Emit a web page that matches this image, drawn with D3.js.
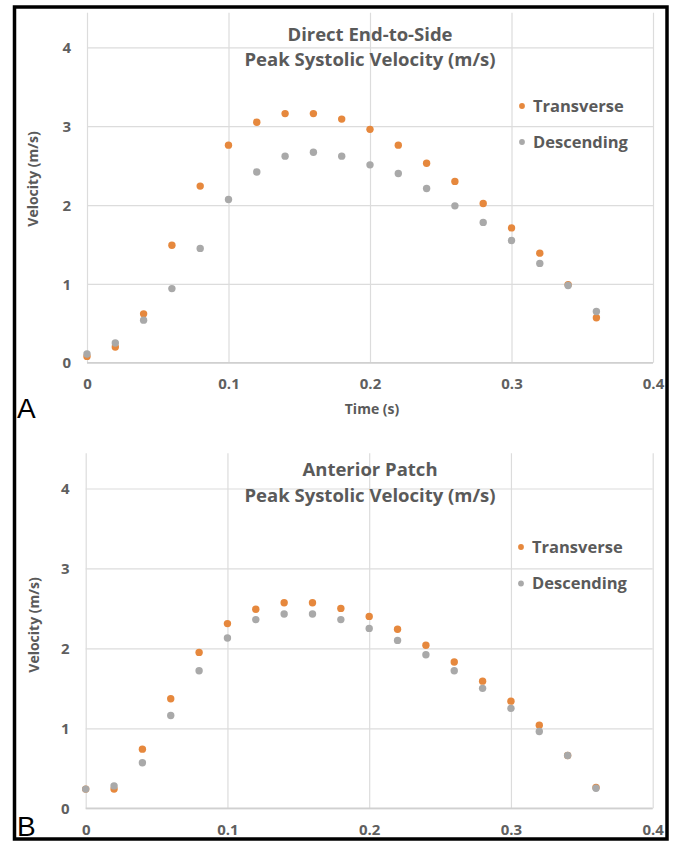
<!DOCTYPE html>
<html>
<head>
<meta charset="utf-8">
<script src="https://cdn.jsdelivr.net/npm/d3@7"></script>
<style>
  html, body { margin: 0; padding: 0; background: #fff; }
  svg { display: block; }
  .tick text { font-family: "Open Sans", Lato, sans-serif; font-weight: 700; fill: #5f5f5f; }
</style>
</head>
<body>
<svg id="fig" width="675" height="841"></svg>
<script>
// Sample times (s)
const times = [0, 0.02, 0.04, 0.06, 0.08, 0.10, 0.12, 0.14, 0.16, 0.18,
               0.20, 0.22, 0.24, 0.26, 0.28, 0.30, 0.32, 0.34, 0.36];

// Panel A: direct end-to-side, peak systolic velocity (m/s)
const directTransverse = [0.08, 0.20, 0.62, 1.49, 2.24, 2.76, 3.05, 3.16, 3.16, 3.09,
                          2.96, 2.76, 2.53, 2.30, 2.02, 1.71, 1.39, 0.99, 0.57];
const directDescending = [0.11, 0.25, 0.54, 0.94, 1.45, 2.07, 2.42, 2.62, 2.67, 2.62,
                          2.51, 2.40, 2.21, 1.99, 1.78, 1.55, 1.26, 0.98, 0.65];

// Panel B: anterior patch, peak systolic velocity (m/s)
const patchTransverse = [0.24, 0.24, 0.74, 1.37, 1.95, 2.31, 2.49, 2.57, 2.57, 2.50,
                         2.40, 2.24, 2.04, 1.83, 1.59, 1.34, 1.04, 0.66, 0.26];
const patchDescending = [0.24, 0.28, 0.57, 1.16, 1.72, 2.13, 2.36, 2.43, 2.43, 2.36,
                         2.25, 2.10, 1.92, 1.72, 1.50, 1.25, 0.96, 0.66, 0.25];

const seriesNames = ["Transverse", "Descending"];
const xTicks = [0, 0.1, 0.2, 0.3, 0.4];
const yTicks = [0, 1, 2, 3, 4];
const titlesA = ["Direct End-to-Side", "Peak Systolic Velocity (m/s)"];
const titlesB = ["Anterior Patch", "Peak Systolic Velocity (m/s)"];

const colors = { Transverse: "#e6883d", Descending: "#a9a9a9" };
const textColor = "#5a5a5a";
const gridColor = "#dcdcdc";
const font = "'Open Sans', Lato, sans-serif";

const svg = d3.select("#fig");
svg.append("rect").attr("width", 675).attr("height", 841).attr("fill", "#fff");

function drawPanel(cfg) {
  const g = svg.append("g");
  const x = d3.scaleLinear().domain([0, 0.4]).range([cfg.left, cfg.right]);
  const y = d3.scaleLinear().domain([0, 4.44]).range([cfg.bottom, cfg.top]);

  // horizontal gridlines + y tick labels
  const ya = g.append("g")
    .attr("transform", `translate(${cfg.left},0)`)
    .call(d3.axisLeft(y).tickValues(yTicks).tickSize(-(cfg.right - cfg.left)).tickPadding(16).tickFormat(d3.format("d")));
  ya.select(".domain").remove();
  ya.selectAll(".tick line").attr("stroke", gridColor).attr("stroke-width", 1.2);
  ya.selectAll(".tick text").attr("font-size", 15).attr("dy", "0.35em");

  // vertical gridlines + x tick labels
  const xa = g.append("g")
    .attr("transform", `translate(0,${cfg.bottom})`)
    .call(d3.axisBottom(x).tickValues(xTicks).tickSize(-(cfg.bottom - cfg.top)).tickPadding(16).tickFormat(d => d === 0 ? "0" : d3.format(".1f")(d)));
  xa.select(".domain").remove();
  xa.selectAll(".tick line").attr("stroke", gridColor).attr("stroke-width", 1.2);
  xa.selectAll(".tick text").attr("font-size", 15);

  // x axis baseline
  g.append("line")
    .attr("x1", cfg.left).attr("x2", cfg.right)
    .attr("y1", y(0)).attr("y2", y(0))
    .attr("stroke", "#d0d0d0").attr("stroke-width", 1.4);

  // two-line title
  cfg.titles.forEach((t, i) => {
    g.append("text")
      .attr("x", cfg.titleX).attr("y", cfg.titleY + i * 25.5)
      .attr("text-anchor", "middle")
      .attr("font-family", font).attr("font-weight", 700).attr("font-size", 18.5)
      .attr("fill", textColor).text(t);
  });

  // axis titles
  g.append("text")
    .attr("transform", `translate(${cfg.yLabelX},${cfg.yLabelY}) rotate(-90)`)
    .attr("text-anchor", "middle").attr("dy", "0.35em")
    .attr("font-family", font).attr("font-weight", 700).attr("font-size", 14)
    .attr("fill", textColor).text("Velocity (m/s)");
  if (cfg.xLabel) {
    g.append("text")
      .attr("x", (cfg.left + cfg.right) / 2 + 2).attr("y", cfg.xLabelY)
      .attr("text-anchor", "middle").attr("dy", "0.35em")
      .attr("font-family", font).attr("font-weight", 700).attr("font-size", 14)
      .attr("fill", textColor).text(cfg.xLabel);
  }

  // markers
  const series = [
    { name: seriesNames[0], values: cfg.transverse },
    { name: seriesNames[1], values: cfg.descending }
  ];
  series.forEach(s => {
    g.append("g").selectAll("circle")
      .data(times.map((t, i) => ({ t, v: s.values[i] })))
      .join("circle")
      .attr("cx", d => x(d.t)).attr("cy", d => y(d.v))
      .attr("r", 3.7).attr("fill", colors[s.name]);
  });

  // legend
  series.forEach((s, i) => {
    const ly = cfg.legendY + i * cfg.legendGap;
    g.append("circle").attr("cx", cfg.legendX).attr("cy", ly).attr("r", 2.9).attr("fill", colors[s.name]);
    g.append("text")
      .attr("x", cfg.legendX + 11).attr("y", ly).attr("dy", "0.35em")
      .attr("font-family", font).attr("font-weight", 700).attr("font-size", 16.5)
      .attr("fill", textColor).text(s.name);
  });

  // panel letter
  svg.append("text")
    .attr("x", 17).attr("y", cfg.letterY)
    .attr("font-family", "'Liberation Sans', Arial, sans-serif").attr("font-size", 28)
    .attr("fill", "#000").text(cfg.letter);
}

drawPanel({
  left: 87, right: 653, top: 12.7, bottom: 362.7,
  titles: titlesA, titleX: 370, titleY: 40.5,
  yLabelX: 33, yLabelY: 179, xLabel: "Time (s)", xLabelY: 409,
  transverse: directTransverse, descending: directDescending,
  legendX: 522, legendY: 106, legendGap: 36,
  letter: "A", letterY: 418
});

drawPanel({
  left: 85.7, right: 652.7, top: 453.3, bottom: 808.3,
  titles: titlesB, titleX: 370, titleY: 476,
  yLabelX: 34, yLabelY: 625, xLabel: null, xLabelY: 0,
  transverse: patchTransverse, descending: patchDescending,
  legendX: 521, legendY: 547, legendGap: 36.5,
  letter: "B", letterY: 836
});

// figure frame
svg.append("rect")
  .attr("x", 14.5).attr("y", 7).attr("width", 652.5).attr("height", 832)
  .attr("fill", "none").attr("stroke", "#000").attr("stroke-width", 3.5);
</script>
</body>
</html>
